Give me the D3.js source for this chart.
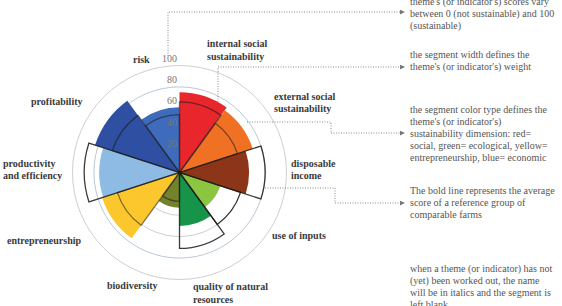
<!DOCTYPE html>
<html>
<head>
<meta charset="utf-8">
<script src="https://cdn.jsdelivr.net/npm/d3@7"></script>
<style>
  body { margin: 0; background: #fff; }
  svg { display: block; }
  .label { font-family: "Liberation Serif", serif; font-weight: bold; font-size: 10px; fill: #3a3a3a; }
  .tick { font-family: "Liberation Serif", serif; font-size: 10px; fill: #777; }
  .note { font-family: "Liberation Serif", serif; font-size: 10px; fill: #555; }
</style>
</head>
<body>
<div class="chart"></div>
<script>
// themes clockwise from 12 o'clock
const themes = ["internal social sustainability", "external social sustainability", "disposable income",
  "use of inputs", "quality of natural resources", "biodiversity", "entrepreneurship",
  "productivity and efficiency", "profitability", "risk"];
const scores = [75, 72, 65, 40, 50, 33, 76, 75, 83, 61];
const reference = [66, 57, 80, 60, 71, 27, 61, 89, 66, 54];
const weights = [1, 1, 1, 1, 1, 1, 1, 1, 1, 1];
const colors = ["#e8262b", "#f07024", "#8c3518", "#8cc540", "#17944a", "#73832c", "#fcc72d",
  "#8dbbe4", "#2f4fa3", "#3e6bbb"];
const ticks = [20, 40, 60, 80, 100];

const notes = [
  ["theme's (or indicator's) scores vary", "between 0 (not sustainable) and 100", "(sustainable)"],
  ["the segment width defines the", "theme's (or indicator's) weight"],
  ["the segment color type defines the", "theme's (or indicator's)", "sustainability dimension: red=",
    "social, green= ecological, yellow=", "entrepreneurship, blue= economic"],
  ["The bold line represents the average", "score of a reference group of", "comparable farms"],
  ["when a theme (or indicator) has not", "(yet) been worked out, the name",
    "will be in italics and the segment is", "left blank"]
];

const width = 562;
const height = 306;
const cx = 179.5, cy = 172.5;

const svg = d3.select('.chart').append('svg').attr('width', width).attr('height', height);
const g = svg.append('g').attr('transform', `translate(${cx},${cy})`);

const r = d3.scaleLinear().domain([0, 100]).range([0, 107]);

// grid circles
g.selectAll('circle.grid').data(ticks).enter().append('circle')
  .attr('class', 'grid')
  .attr('r', d => r(d))
  .attr('fill', 'none')
  .attr('stroke', d => d == 80 ? '#b9c9d8' : '#cfcfcf')
  .attr('stroke-width', 1);

const pie = d3.pie().sort(null).value(d => d);
const slices = pie(weights);
const arc = d3.arc().innerRadius(0);

// score segments
g.selectAll('path.seg').data(slices).enter().append('path')
  .attr('class', 'seg')
  .attr('d', (d, i) => arc.outerRadius(r(scores[i]))(d))
  .attr('fill', (d, i) => colors[i]);

// reference group outline
g.selectAll('path.ref').data(slices).enter().append('path')
  .attr('class', 'ref')
  .attr('d', (d, i) => arc.outerRadius(r(reference[i]))(d))
  .attr('fill', 'none')
  .attr('stroke', '#1a1a1a')
  .attr('stroke-opacity', (d, i) => reference[i] > scores[i] ? 0.85 : 0.55)
  .attr('stroke-width', 1.3)
  .attr('stroke-linejoin', 'miter');

// tick labels
g.selectAll('text.tick').data(ticks).enter().append('text')
  .attr('class', 'tick')
  .attr('x', -2.5)
  .attr('y', d => -r(d) - 4)
  .attr('text-anchor', 'end')
  .text(d => d);

// theme labels (placed by hand around the wheel)
const labelPos = [[207, 47], [274, 99.5], [291, 166.5], [272, 238.5], [193, 290],
  [107, 288.5], [7, 243.5], [3, 166.5], [31, 104.5], [133, 62.5]];
const labelLines = [["internal social", "sustainability"], ["external social", "sustainability"],
  ["disposable", "income"], ["use of inputs"], ["quality of natural", "resources"], ["biodiversity"],
  ["entrepreneurship"], ["productivity", "and efficiency"], ["profitability"], ["risk"]];

themes.forEach(function (t, i) {
  const txt = svg.append('text').attr('class', 'label')
    .attr('x', labelPos[i][0]).attr('y', labelPos[i][1]);
  labelLines[i].forEach(function (line, j) {
    txt.append('tspan').attr('x', labelPos[i][0]).attr('dy', j == 0 ? 0 : 12.5).text(line);
  });
});

// dotted connectors
svg.append('defs').append('marker')
  .attr('id', 'arrow').attr('viewBox', '0 0 6 6').attr('refX', 5).attr('refY', 3)
  .attr('markerWidth', 5).attr('markerHeight', 5).attr('orient', 'auto')
  .append('path').attr('d', 'M0,0L6,3L0,6Z').attr('fill', '#777');

const connectors = [
  [[168, 56], [168, 12], [404, 12]],
  [[218, 102], [218, 67], [404, 67]],
  [[247, 122], [331, 122], [331, 133], [404, 133]],
  [[265, 188], [335, 188], [335, 203], [404, 203]]
];
const line = d3.line();
svg.selectAll('path.conn').data(connectors).enter().append('path')
  .attr('class', 'conn')
  .attr('d', line)
  .attr('fill', 'none')
  .attr('stroke', '#888')
  .attr('stroke-width', 1)
  .attr('stroke-dasharray', '1,1.5')
  .attr('marker-end', 'url(#arrow)');

// explanation notes
const noteTop = [1, 54, 109, 190, 268];
notes.forEach(function (lines, i) {
  const txt = svg.append('text').attr('class', 'note').attr('x', 410).attr('y', noteTop[i] + 3.5);
  lines.forEach(function (l, j) {
    txt.append('tspan').attr('x', 410).attr('dy', j == 0 ? 0 : 12).text(l);
  });
});
</script>
</body>
</html>
